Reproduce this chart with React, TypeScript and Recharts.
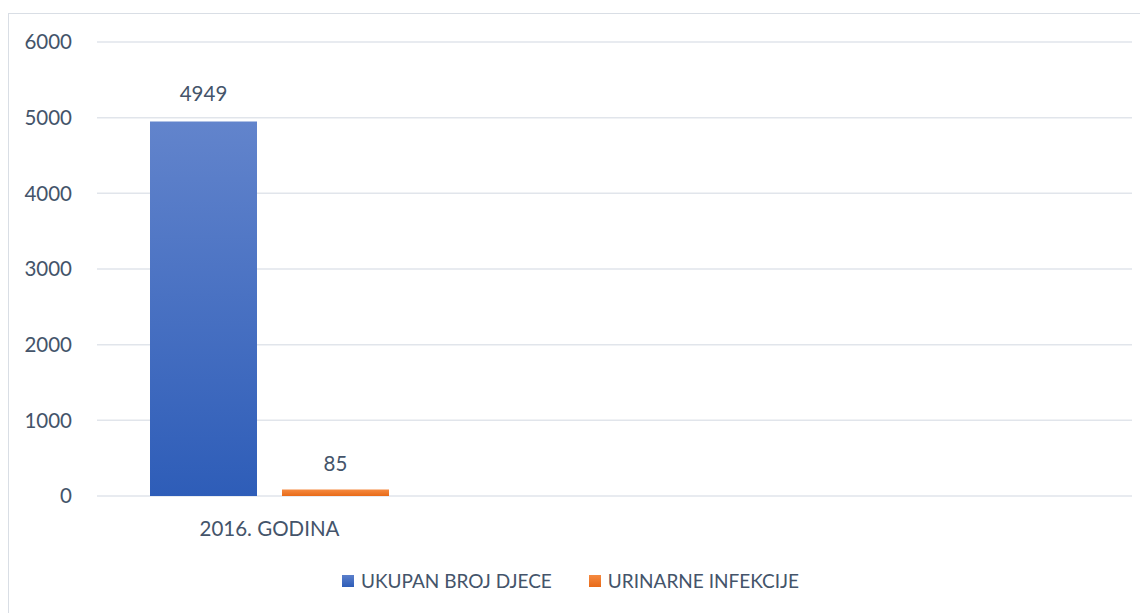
import { Bar, BarChart, CartesianGrid, LabelList, Legend, XAxis, YAxis } from "recharts";

const categories = ["2016. GODINA", " ", "  "];
const ukupanBrojDjece = [4949, null, null];
const urinarneInfekcije = [85, null, null];
const yTicks = [0, 1000, 2000, 3000, 4000, 5000, 6000];

const seriesNames = { ukupno: "UKUPAN BROJ DJECE", infekcije: "URINARNE INFEKCIJE" };

const data = categories.map((name, i) => ({
  name,
  ukupno: ukupanBrojDjece[i],
  infekcije: urinarneInfekcije[i],
}));

const TEXT = "#44546A";
const FONT = "Lato, 'Open Sans', sans-serif";

function LegendContent() {
  const items = [
    { key: "ukupno", label: seriesNames.ukupno },
    { key: "infekcije", label: seriesNames.infekcije },
  ];
  return (
    <div style={{ display: "flex", justifyContent: "center", gap: 37, fontFamily: FONT, fontSize: 19, color: TEXT }}>
      {items.map((it) => (
        <div key={it.key} style={{ display: "flex", alignItems: "center" }}>
          <svg width={12} height={12} style={{ marginRight: 7 }}>
            <defs>
              <linearGradient id={"lg-" + it.key} x1="0" y1="0" x2="0" y2="1">
                <stop offset="0%" stopColor={it.key === "ukupno" ? "#5B7FCB" : "#F58A40"} />
                <stop offset="100%" stopColor={it.key === "ukupno" ? "#2E5DB8" : "#E86A18"} />
              </linearGradient>
            </defs>
            <rect width={12} height={12} fill={`url(#lg-${it.key})`} />
          </svg>
          <span>{it.label}</span>
        </div>
      ))}
    </div>
  );
}

export default function App() {
  return (
    <div style={{ marginTop: 5, width: 1140, height: 602, border: "1px solid #D9DEE5", boxSizing: "border-box" }}>
      <BarChart
        width={1138}
        height={600}
        data={data}
        margin={{ top: 28, right: 15, bottom: 22, left: 0 }}
        barGap={25}
        style={{ fontFamily: FONT }}
      >
        <defs>
          <linearGradient id="gradBlue" x1="0" y1="0" x2="0" y2="1">
            <stop offset="0%" stopColor="#6284CC" />
            <stop offset="100%" stopColor="#2E5DB8" />
          </linearGradient>
          <linearGradient id="gradOrange" x1="0" y1="0" x2="0" y2="1">
            <stop offset="0%" stopColor="#F58A40" />
            <stop offset="100%" stopColor="#E86A18" />
          </linearGradient>
        </defs>
        <CartesianGrid vertical={false} stroke="#E1E5EB" strokeWidth={1.5} />
        <XAxis
          dataKey="name"
          axisLine={false}
          tickLine={false}
          tickSize={0}
          tickMargin={25}
          height={73}
          tick={{ fill: TEXT, fontSize: 20.5 }}
        />
        <YAxis
          domain={[0, 6000]}
          ticks={yTicks}
          axisLine={false}
          tickLine={false}
          tickSize={0}
          tickMargin={25}
          width={88}
          tick={{ fill: TEXT, fontSize: 20.5 }}
        />
        <Legend verticalAlign="bottom" content={<LegendContent />} />
        <Bar dataKey="ukupno" name={seriesNames.ukupno} fill="url(#gradBlue)" barSize={107} isAnimationActive={false}>
          <LabelList dataKey="ukupno" position="top" offset={21} fill={TEXT} fontSize={20.5} />
        </Bar>
        <Bar dataKey="infekcije" name={seriesNames.infekcije} fill="url(#gradOrange)" barSize={107} isAnimationActive={false}>
          <LabelList dataKey="infekcije" position="top" offset={19} fill={TEXT} fontSize={20.5} />
        </Bar>
      </BarChart>
    </div>
  );
}
